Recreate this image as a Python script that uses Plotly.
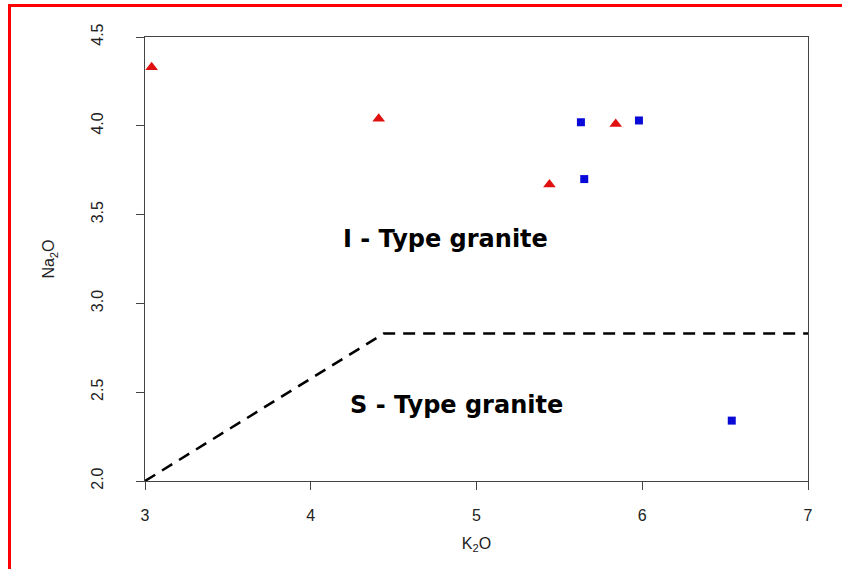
import plotly.graph_objects as go

# I-type samples (red triangles)
i_k2o = [3.04, 4.41, 5.44, 5.84]
i_na2o = [4.33, 4.04, 3.67, 4.01]
# blue squares
b_k2o = [5.63, 5.65, 5.98, 6.54]
b_na2o = [4.02, 3.70, 4.03, 2.34]
# I/S boundary line
line_k2o = [3.0, 4.44, 7.0]
line_na2o = [2.0, 2.83, 2.83]

x_ticks = [3, 4, 5, 6, 7]
y_ticks = [2.0, 2.5, 3.0, 3.5, 4.0, 4.5]
y_tick_text = ["2.0", "2.5", "3.0", "3.5", "4.0", "4.5"]

W, H = 842, 569
L, R, T, B = 145, 34, 37, 88
pw, ph = W - L - R, H - T - B

def px(x):
    return (x - L) / pw

def py(y):
    return (H - B - y) / ph

FONT = "Liberation Sans, Arial, sans-serif"
BOLD = "DejaVu Sans, Liberation Sans, sans-serif"

fig = go.Figure()
fig.add_trace(go.Scatter(x=line_k2o, y=line_na2o, mode="lines",
                         line=dict(color="black", width=2.5, dash="12px,8px"),
                         hoverinfo="skip", showlegend=False, cliponaxis=False))
fig.add_trace(go.Scatter(x=i_k2o, y=i_na2o, mode="markers",
                         marker=dict(symbol="triangle-up", size=11, color="#e01010"),
                         showlegend=False))
fig.add_trace(go.Scatter(x=b_k2o, y=b_na2o, mode="markers",
                         marker=dict(symbol="square", size=8, color="#0a0ad8"),
                         showlegend=False))

fig.add_annotation(x=4.81, y=3.36, text="<b>I - Type granite</b>", showarrow=False,
                   font=dict(family=BOLD, size=24, color="black"))
fig.add_annotation(x=4.88, y=2.43, text="<b>S - Type granite</b>", showarrow=False,
                   font=dict(family=BOLD, size=24, color="black"))

# red border (left and top edges)
fig.add_shape(type="path", xref="paper", yref="paper",
              path=f"M {px(9.5)} {py(575)} L {px(9.5)} {py(5.5)} L {px(850)} {py(5.5)}",
              line=dict(color="#ff0000", width=3))

axis_common = dict(showgrid=False, zeroline=False, showline=True, linecolor="#444",
                   linewidth=1.3, mirror=True, ticks="outside", ticklen=8,
                   tickcolor="#444", tickwidth=1.3,
                   tickfont=dict(family=FONT, size=16, color="#222"))

fig.update_xaxes(range=[3, 7], tickvals=x_ticks, ticklabelstandoff=12,
                 title=dict(text="K<sub>2</sub>O", font=dict(family=FONT, size=16, color="#222"),
                            standoff=14),
                 **axis_common)
fig.update_yaxes(range=[2, 4.5], tickvals=y_ticks, ticktext=y_tick_text, tickangle=-90,
                 ticklabelstandoff=26,
                 title=dict(text="Na<sub>2</sub>O", font=dict(family=FONT, size=16, color="#222"),
                            standoff=30),
                 **axis_common)

fig.update_layout(width=W, height=H, margin=dict(l=L, r=R, t=T, b=B),
                  plot_bgcolor="white", paper_bgcolor="white",
                  font=dict(family=FONT))

fig.write_html("out.html", config={"displayModeBar": False},
               post_script="document.body.style.margin='0';document.body.style.overflow='hidden';")
